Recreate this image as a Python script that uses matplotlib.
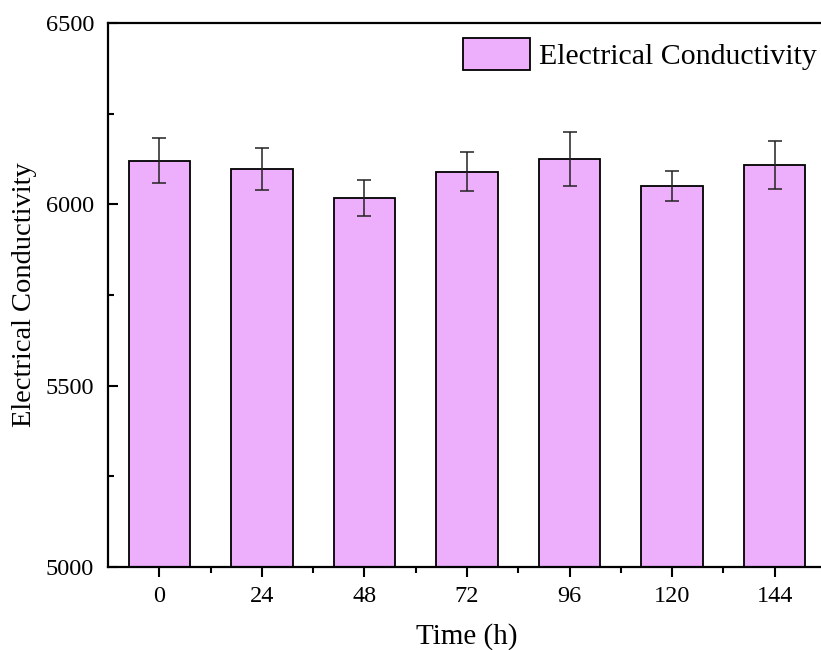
import numpy as np
import matplotlib.pyplot as plt
from matplotlib.ticker import MultipleLocator

# data
times = ["0", "24", "48", "72", "96", "120", "144"]
conductivity = [6120, 6098, 6018, 6090, 6125, 6050, 6108]
errors = [62, 58, 50, 53, 75, 42, 66]

plt.rcParams['font.family'] = ['Liberation Serif', 'DejaVu Serif']

fig = plt.figure(figsize=(8.21, 6.5), dpi=100)
# the right edge of the frame runs off the picture, as in the reference
ax = fig.add_axes([108 / 821, (650 - 567) / 650, (826 - 108) / 821, (567 - 23) / 650])

x = np.arange(len(times))
ax.bar(x, conductivity, width=0.6, color='#EDAEFC', edgecolor='black',
       linewidth=1.3, label='Electrical Conductivity', zorder=2)
ax.errorbar(x, conductivity, yerr=errors, fmt='none', ecolor='#222222',
            elinewidth=1.1, capsize=5, capthick=1.1, zorder=3)

ax.set_xlim(-0.5, len(times) - 0.5)
ax.set_ylim(5000, 6500)
ax.set_xticks(x)
ax.set_xticklabels(times)
ax.set_xticks(x[:-1] + 0.5, minor=True)
ax.yaxis.set_major_locator(MultipleLocator(500))
ax.yaxis.set_minor_locator(MultipleLocator(250))

ax.tick_params(axis='x', which='major', direction='out', length=7, width=1.5,
               labelsize=17.5, pad=7)
ax.tick_params(axis='x', which='minor', direction='out', length=4, width=1.5)
ax.tick_params(axis='y', which='major', direction='in', length=7, width=1.5,
               labelsize=17.5, pad=10)
ax.tick_params(axis='y', which='minor', direction='in', length=4, width=1.5)

for s in ax.spines.values():
    s.set_linewidth(1.6)

ax.set_xlabel('Time (h)', fontsize=21, labelpad=11)
ax.set_ylabel('Electrical Conductivity', fontsize=20.5, labelpad=6)

ax.legend(loc='upper left', bbox_to_anchor=(445 / 821, 1 - 20 / 650),
          bbox_transform=fig.transFigure, frameon=False, fontsize=21.5,
          handlelength=2.25, handleheight=1.3, handletextpad=0.3,
          borderpad=0.1)

fig.savefig('out.png', dpi=100)
